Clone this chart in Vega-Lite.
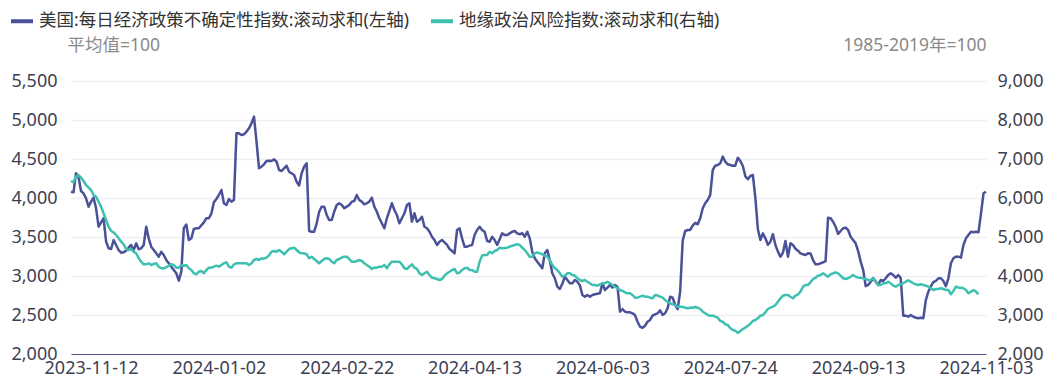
{
"$schema": "https://vega.github.io/schema/vega-lite/v6.json",
"width": 915, "height": 273,
"autosize": {"type": "none"},
"padding": {"left": 71, "top": 81, "right": 74, "bottom": 37},
"background": "white",
"config": {"font": "Noto Sans CJK SC", "view": {"stroke": null}},
"datasets": {
"epu": [
{"date":"2023-11-04","value":4081},{"date":"2023-11-05","value":4073},{"date":"2023-11-06","value":4317},{"date":"2023-11-07","value":4270},{"date":"2023-11-08","value":4090},{"date":"2023-11-09","value":4060},{"date":"2023-11-10","value":3996},{"date":"2023-11-11","value":3889},{"date":"2023-11-12","value":3953},{"date":"2023-11-13","value":4004},{"date":"2023-11-14","value":3868},{"date":"2023-11-15","value":3632},{"date":"2023-11-16","value":3688},{"date":"2023-11-17","value":3740},{"date":"2023-11-18","value":3440},{"date":"2023-11-19","value":3355},{"date":"2023-11-20","value":3346},{"date":"2023-11-21","value":3462},{"date":"2023-11-22","value":3398},{"date":"2023-11-23","value":3333},{"date":"2023-11-24","value":3299},{"date":"2023-11-25","value":3304},{"date":"2023-11-26","value":3325},{"date":"2023-11-27","value":3363},{"date":"2023-11-28","value":3398},{"date":"2023-11-29","value":3333},{"date":"2023-11-30","value":3419},
{"date":"2023-12-01","value":3342},{"date":"2023-12-02","value":3355},{"date":"2023-12-03","value":3398},{"date":"2023-12-04","value":3632},{"date":"2023-12-05","value":3483},{"date":"2023-12-06","value":3376},{"date":"2023-12-07","value":3333},{"date":"2023-12-08","value":3291},{"date":"2023-12-09","value":3248},{"date":"2023-12-10","value":3310},{"date":"2023-12-11","value":3269},{"date":"2023-12-12","value":3205},{"date":"2023-12-13","value":3163},{"date":"2023-12-14","value":3119},{"date":"2023-12-16","value":3035},{"date":"2023-12-17","value":2940},{"date":"2023-12-18","value":3055},{"date":"2023-12-19","value":3612},{"date":"2023-12-20","value":3660},{"date":"2023-12-21","value":3462},{"date":"2023-12-22","value":3483},{"date":"2023-12-23","value":3603},{"date":"2023-12-24","value":3612},{"date":"2023-12-25","value":3612},{"date":"2023-12-27","value":3688},{"date":"2023-12-28","value":3740},{"date":"2023-12-29","value":3740},{"date":"2023-12-30","value":3800},{"date":"2023-12-31","value":3945},
{"date":"2024-01-01","value":3987},{"date":"2024-01-02","value":4039},{"date":"2024-01-03","value":4103},{"date":"2024-01-04","value":3932},{"date":"2024-01-05","value":3910},{"date":"2024-01-06","value":3987},{"date":"2024-01-07","value":3953},{"date":"2024-01-08","value":3974},{"date":"2024-01-09","value":4830},{"date":"2024-01-10","value":4829},{"date":"2024-01-11","value":4808},{"date":"2024-01-12","value":4817},{"date":"2024-01-13","value":4850},{"date":"2024-01-14","value":4893},{"date":"2024-01-15","value":4957},{"date":"2024-01-16","value":5043},{"date":"2024-01-17","value":4722},{"date":"2024-01-18","value":4381},{"date":"2024-01-19","value":4401},{"date":"2024-01-20","value":4432},{"date":"2024-01-21","value":4474},{"date":"2024-01-22","value":4478},{"date":"2024-01-23","value":4474},{"date":"2024-01-24","value":4496},{"date":"2024-01-25","value":4465},{"date":"2024-01-26","value":4359},{"date":"2024-01-27","value":4346},{"date":"2024-01-28","value":4381},{"date":"2024-01-29","value":4414},{"date":"2024-01-30","value":4337},
{"date":"2024-02-01","value":4295},{"date":"2024-02-02","value":4209},{"date":"2024-02-03","value":4160},{"date":"2024-02-04","value":4317},{"date":"2024-02-05","value":4401},{"date":"2024-02-06","value":4445},{"date":"2024-02-07","value":3577},{"date":"2024-02-08","value":3568},{"date":"2024-02-09","value":3568},{"date":"2024-02-10","value":3676},{"date":"2024-02-11","value":3824},{"date":"2024-02-12","value":3889},{"date":"2024-02-13","value":3889},{"date":"2024-02-14","value":3782},{"date":"2024-02-15","value":3718},{"date":"2024-02-16","value":3718},{"date":"2024-02-17","value":3824},{"date":"2024-02-18","value":3910},{"date":"2024-02-19","value":3932},{"date":"2024-02-20","value":3910},{"date":"2024-02-21","value":3868},{"date":"2024-02-22","value":3889},{"date":"2024-02-23","value":3910},{"date":"2024-02-24","value":3953},{"date":"2024-02-25","value":3962},{"date":"2024-02-26","value":4039},{"date":"2024-02-27","value":3974},{"date":"2024-02-28","value":3953},{"date":"2024-02-29","value":3919},
{"date":"2024-03-01","value":3932},{"date":"2024-03-02","value":3953},{"date":"2024-03-03","value":4004},{"date":"2024-03-04","value":3889},{"date":"2024-03-05","value":3824},{"date":"2024-03-06","value":3740},{"date":"2024-03-07","value":3676},{"date":"2024-03-08","value":3612},{"date":"2024-03-09","value":3740},{"date":"2024-03-10","value":3834},{"date":"2024-03-11","value":3932},{"date":"2024-03-12","value":3846},{"date":"2024-03-13","value":3782},{"date":"2024-03-14","value":3676},{"date":"2024-03-15","value":3740},{"date":"2024-03-16","value":3804},{"date":"2024-03-17","value":3910},{"date":"2024-03-18","value":3932},{"date":"2024-03-19","value":3696},{"date":"2024-03-20","value":3804},{"date":"2024-03-21","value":3696},{"date":"2024-03-22","value":3718},{"date":"2024-03-23","value":3760},{"date":"2024-03-24","value":3632},{"date":"2024-03-25","value":3612},{"date":"2024-03-26","value":3568},{"date":"2024-03-27","value":3504},{"date":"2024-03-28","value":3462},{"date":"2024-03-29","value":3398},{"date":"2024-03-30","value":3440},{"date":"2024-03-31","value":3462},
{"date":"2024-04-02","value":3398},{"date":"2024-04-03","value":3346},{"date":"2024-04-04","value":3321},{"date":"2024-04-05","value":3291},{"date":"2024-04-06","value":3590},{"date":"2024-04-07","value":3612},{"date":"2024-04-08","value":3483},{"date":"2024-04-09","value":3376},{"date":"2024-04-10","value":3376},{"date":"2024-04-11","value":3389},{"date":"2024-04-12","value":3398},{"date":"2024-04-13","value":3526},{"date":"2024-04-14","value":3590},{"date":"2024-04-15","value":3632},{"date":"2024-04-16","value":3590},{"date":"2024-04-17","value":3568},{"date":"2024-04-18","value":3449},{"date":"2024-04-19","value":3440},{"date":"2024-04-20","value":3504},{"date":"2024-04-21","value":3462},{"date":"2024-04-22","value":3398},{"date":"2024-04-23","value":3470},{"date":"2024-04-24","value":3547},{"date":"2024-04-25","value":3526},{"date":"2024-04-26","value":3526},{"date":"2024-04-27","value":3547},{"date":"2024-04-28","value":3568},{"date":"2024-04-29","value":3577},{"date":"2024-04-30","value":3547},
{"date":"2024-05-01","value":3535},{"date":"2024-05-02","value":3550},{"date":"2024-05-03","value":3504},{"date":"2024-05-04","value":3568},{"date":"2024-05-05","value":3483},{"date":"2024-05-06","value":3312},{"date":"2024-05-07","value":3227},{"date":"2024-05-08","value":3184},{"date":"2024-05-09","value":3141},{"date":"2024-05-10","value":3099},{"date":"2024-05-11","value":3291},{"date":"2024-05-12","value":3334},{"date":"2024-05-13","value":3200},{"date":"2024-05-14","value":3035},{"date":"2024-05-15","value":2971},{"date":"2024-05-16","value":2863},{"date":"2024-05-17","value":2834},{"date":"2024-05-18","value":2900},{"date":"2024-05-19","value":2991},{"date":"2024-05-20","value":2949},{"date":"2024-05-21","value":2906},{"date":"2024-05-22","value":2906},{"date":"2024-05-23","value":2949},{"date":"2024-05-24","value":2927},{"date":"2024-05-25","value":2880},{"date":"2024-05-26","value":2757},{"date":"2024-05-27","value":2735},{"date":"2024-05-28","value":2757},{"date":"2024-05-29","value":2735},{"date":"2024-05-30","value":2757},{"date":"2024-05-31","value":2766},
{"date":"2024-06-01","value":2773},{"date":"2024-06-02","value":2778},{"date":"2024-06-03","value":2906},{"date":"2024-06-04","value":2820},{"date":"2024-06-05","value":2850},{"date":"2024-06-06","value":2885},{"date":"2024-06-07","value":2850},{"date":"2024-06-08","value":2885},{"date":"2024-06-09","value":2863},{"date":"2024-06-10","value":2542},{"date":"2024-06-11","value":2577},{"date":"2024-06-12","value":2542},{"date":"2024-06-13","value":2534},{"date":"2024-06-14","value":2534},{"date":"2024-06-15","value":2521},{"date":"2024-06-16","value":2499},{"date":"2024-06-17","value":2413},{"date":"2024-06-18","value":2349},{"date":"2024-06-19","value":2336},{"date":"2024-06-20","value":2362},{"date":"2024-06-21","value":2414},{"date":"2024-06-22","value":2436},{"date":"2024-06-23","value":2491},{"date":"2024-06-24","value":2509},{"date":"2024-06-25","value":2522},{"date":"2024-06-26","value":2560},{"date":"2024-06-27","value":2500},{"date":"2024-06-28","value":2522},{"date":"2024-06-29","value":2586},{"date":"2024-06-30","value":2735},
{"date":"2024-07-01","value":2722},{"date":"2024-07-02","value":2628},{"date":"2024-07-03","value":2575},{"date":"2024-07-04","value":2800},{"date":"2024-07-05","value":3450},{"date":"2024-07-06","value":3577},{"date":"2024-07-07","value":3590},{"date":"2024-07-08","value":3590},{"date":"2024-07-09","value":3645},{"date":"2024-07-10","value":3680},{"date":"2024-07-11","value":3663},{"date":"2024-07-12","value":3740},{"date":"2024-07-13","value":3868},{"date":"2024-07-14","value":3932},{"date":"2024-07-15","value":3974},{"date":"2024-07-16","value":4040},{"date":"2024-07-17","value":4359},{"date":"2024-07-18","value":4414},{"date":"2024-07-19","value":4423},{"date":"2024-07-20","value":4445},{"date":"2024-07-21","value":4530},{"date":"2024-07-22","value":4465},{"date":"2024-07-23","value":4432},{"date":"2024-07-24","value":4423},{"date":"2024-07-25","value":4414},{"date":"2024-07-26","value":4414},{"date":"2024-07-27","value":4517},{"date":"2024-07-28","value":4474},{"date":"2024-07-29","value":4410},{"date":"2024-07-30","value":4280},{"date":"2024-07-31","value":4240},
{"date":"2024-08-01","value":4282},{"date":"2024-08-02","value":4295},{"date":"2024-08-03","value":4000},{"date":"2024-08-04","value":3600},{"date":"2024-08-05","value":3462},{"date":"2024-08-06","value":3547},{"date":"2024-08-07","value":3483},{"date":"2024-08-08","value":3400},{"date":"2024-08-09","value":3440},{"date":"2024-08-10","value":3535},{"date":"2024-08-11","value":3398},{"date":"2024-08-12","value":3312},{"date":"2024-08-13","value":3248},{"date":"2024-08-14","value":3300},{"date":"2024-08-15","value":3449},{"date":"2024-08-16","value":3248},{"date":"2024-08-17","value":3420},{"date":"2024-08-18","value":3398},{"date":"2024-08-19","value":3350},{"date":"2024-08-20","value":3325},{"date":"2024-08-21","value":3291},{"date":"2024-08-22","value":3278},{"date":"2024-08-23","value":3269},{"date":"2024-08-24","value":3291},{"date":"2024-08-25","value":3290},{"date":"2024-08-26","value":3205},{"date":"2024-08-27","value":3150},{"date":"2024-08-28","value":3150},{"date":"2024-08-29","value":3163},{"date":"2024-08-30","value":3175},{"date":"2024-08-31","value":3190},
{"date":"2024-09-01","value":3747},{"date":"2024-09-02","value":3740},{"date":"2024-09-03","value":3696},{"date":"2024-09-04","value":3632},{"date":"2024-09-05","value":3540},{"date":"2024-09-06","value":3577},{"date":"2024-09-07","value":3612},{"date":"2024-09-08","value":3619},{"date":"2024-09-09","value":3590},{"date":"2024-09-10","value":3504},{"date":"2024-09-11","value":3462},{"date":"2024-09-12","value":3419},{"date":"2024-09-13","value":3320},{"date":"2024-09-14","value":3184},{"date":"2024-09-15","value":3080},{"date":"2024-09-16","value":2870},{"date":"2024-09-17","value":2885},{"date":"2024-09-18","value":2927},{"date":"2024-09-19","value":2975},{"date":"2024-09-20","value":2927},{"date":"2024-09-21","value":2885},{"date":"2024-09-22","value":2949},{"date":"2024-09-23","value":2936},{"date":"2024-09-24","value":2971},{"date":"2024-09-25","value":3013},{"date":"2024-09-26","value":3035},{"date":"2024-09-27","value":3013},{"date":"2024-09-28","value":2978},{"date":"2024-09-29","value":3013},{"date":"2024-09-30","value":2970},
{"date":"2024-10-01","value":2491},{"date":"2024-10-02","value":2491},{"date":"2024-10-03","value":2478},{"date":"2024-10-04","value":2500},{"date":"2024-10-05","value":2478},{"date":"2024-10-06","value":2465},{"date":"2024-10-07","value":2458},{"date":"2024-10-08","value":2465},{"date":"2024-10-09","value":2458},{"date":"2024-10-10","value":2692},{"date":"2024-10-11","value":2799},{"date":"2024-10-12","value":2870},{"date":"2024-10-13","value":2920},{"date":"2024-10-14","value":2936},{"date":"2024-10-15","value":2971},{"date":"2024-10-16","value":2971},{"date":"2024-10-17","value":2936},{"date":"2024-10-18","value":2870},{"date":"2024-10-19","value":2971},{"date":"2024-10-20","value":3163},{"date":"2024-10-21","value":3227},{"date":"2024-10-22","value":3248},{"date":"2024-10-23","value":3248},{"date":"2024-10-24","value":3235},{"date":"2024-10-25","value":3398},{"date":"2024-10-26","value":3483},{"date":"2024-10-27","value":3526},{"date":"2024-10-28","value":3568},{"date":"2024-10-29","value":3560},{"date":"2024-10-30","value":3568},{"date":"2024-10-31","value":3560},
{"date":"2024-11-01","value":3800},{"date":"2024-11-02","value":4060},{"date":"2024-11-03","value":4081}
],
"gpr": [
{"date":"2023-11-04","value":6436},{"date":"2023-11-05","value":6403},{"date":"2023-11-06","value":6546},{"date":"2023-11-07","value":6590},{"date":"2023-11-08","value":6521},{"date":"2023-11-09","value":6436},{"date":"2023-11-10","value":6333},{"date":"2023-11-12","value":6205},{"date":"2023-11-13","value":6077},{"date":"2023-11-14","value":6033},{"date":"2023-11-15","value":5905},{"date":"2023-11-16","value":5777},{"date":"2023-11-17","value":5608},{"date":"2023-11-18","value":5436},{"date":"2023-11-19","value":5264},{"date":"2023-11-20","value":5154},{"date":"2023-11-21","value":5121},{"date":"2023-11-22","value":5051},{"date":"2023-11-23","value":4967},{"date":"2023-11-24","value":4880},{"date":"2023-11-25","value":4813},{"date":"2023-11-26","value":4692},{"date":"2023-11-27","value":4667},{"date":"2023-11-28","value":4692},{"date":"2023-11-29","value":4623},{"date":"2023-11-30","value":4582},
{"date":"2023-12-01","value":4454},{"date":"2023-12-02","value":4367},{"date":"2023-12-03","value":4300},{"date":"2023-12-04","value":4300},{"date":"2023-12-05","value":4326},{"date":"2023-12-06","value":4282},{"date":"2023-12-07","value":4308},{"date":"2023-12-08","value":4326},{"date":"2023-12-09","value":4239},{"date":"2023-12-10","value":4198},{"date":"2023-12-11","value":4198},{"date":"2023-12-12","value":4223},{"date":"2023-12-13","value":4264},{"date":"2023-12-14","value":4300},{"date":"2023-12-15","value":4282},{"date":"2023-12-16","value":4213},{"date":"2023-12-17","value":4213},{"date":"2023-12-18","value":4282},{"date":"2023-12-19","value":4264},{"date":"2023-12-20","value":4282},{"date":"2023-12-21","value":4198},{"date":"2023-12-22","value":4154},{"date":"2023-12-23","value":4070},{"date":"2023-12-24","value":4044},{"date":"2023-12-25","value":4110},{"date":"2023-12-26","value":4128},{"date":"2023-12-27","value":4070},{"date":"2023-12-28","value":4154},{"date":"2023-12-29","value":4213},{"date":"2023-12-30","value":4213},{"date":"2023-12-31","value":4239},
{"date":"2024-01-01","value":4264},{"date":"2024-01-02","value":4239},{"date":"2024-01-03","value":4282},{"date":"2024-01-04","value":4326},{"date":"2024-01-05","value":4351},{"date":"2024-01-06","value":4239},{"date":"2024-01-07","value":4213},{"date":"2024-01-08","value":4300},{"date":"2024-01-09","value":4326},{"date":"2024-01-10","value":4326},{"date":"2024-01-11","value":4326},{"date":"2024-01-12","value":4326},{"date":"2024-01-13","value":4326},{"date":"2024-01-14","value":4282},{"date":"2024-01-15","value":4326},{"date":"2024-01-16","value":4410},{"date":"2024-01-17","value":4436},{"date":"2024-01-18","value":4410},{"date":"2024-01-19","value":4454},{"date":"2024-01-20","value":4445},{"date":"2024-01-21","value":4470},{"date":"2024-01-22","value":4530},{"date":"2024-01-23","value":4623},{"date":"2024-01-24","value":4641},{"date":"2024-01-25","value":4623},{"date":"2024-01-26","value":4667},{"date":"2024-01-27","value":4623},{"date":"2024-01-28","value":4557},{"date":"2024-01-29","value":4623},{"date":"2024-01-30","value":4692},{"date":"2024-01-31","value":4710},
{"date":"2024-02-01","value":4726},{"date":"2024-02-02","value":4667},{"date":"2024-02-03","value":4608},{"date":"2024-02-04","value":4582},{"date":"2024-02-05","value":4582},{"date":"2024-02-06","value":4557},{"date":"2024-02-07","value":4454},{"date":"2024-02-08","value":4495},{"date":"2024-02-09","value":4436},{"date":"2024-02-10","value":4385},{"date":"2024-02-11","value":4326},{"date":"2024-02-12","value":4385},{"date":"2024-02-13","value":4436},{"date":"2024-02-14","value":4454},{"date":"2024-02-15","value":4436},{"date":"2024-02-16","value":4367},{"date":"2024-02-17","value":4326},{"date":"2024-02-18","value":4410},{"date":"2024-02-19","value":4436},{"date":"2024-02-20","value":4470},{"date":"2024-02-21","value":4495},{"date":"2024-02-22","value":4495},{"date":"2024-02-23","value":4436},{"date":"2024-02-24","value":4367},{"date":"2024-02-25","value":4367},{"date":"2024-02-26","value":4385},{"date":"2024-02-27","value":4410},{"date":"2024-02-28","value":4385},{"date":"2024-02-29","value":4326},
{"date":"2024-03-01","value":4282},{"date":"2024-03-02","value":4239},{"date":"2024-03-03","value":4180},{"date":"2024-03-04","value":4213},{"date":"2024-03-05","value":4213},{"date":"2024-03-06","value":4239},{"date":"2024-03-07","value":4239},{"date":"2024-03-08","value":4282},{"date":"2024-03-09","value":4198},{"date":"2024-03-10","value":4300},{"date":"2024-03-11","value":4367},{"date":"2024-03-12","value":4367},{"date":"2024-03-13","value":4367},{"date":"2024-03-14","value":4367},{"date":"2024-03-15","value":4300},{"date":"2024-03-16","value":4198},{"date":"2024-03-17","value":4180},{"date":"2024-03-18","value":4239},{"date":"2024-03-19","value":4300},{"date":"2024-03-20","value":4213},{"date":"2024-03-21","value":4180},{"date":"2024-03-22","value":4069},{"date":"2024-03-23","value":4026},{"date":"2024-03-24","value":4069},{"date":"2024-03-25","value":4110},{"date":"2024-03-26","value":4026},{"date":"2024-03-27","value":3957},{"date":"2024-03-28","value":3941},{"date":"2024-03-29","value":3923},{"date":"2024-03-30","value":3898},{"date":"2024-03-31","value":3923},
{"date":"2024-04-01","value":4008},{"date":"2024-04-02","value":4069},{"date":"2024-04-03","value":4110},{"date":"2024-04-04","value":4154},{"date":"2024-04-05","value":4180},{"date":"2024-04-06","value":4069},{"date":"2024-04-07","value":4085},{"date":"2024-04-08","value":4154},{"date":"2024-04-09","value":4198},{"date":"2024-04-10","value":4213},{"date":"2024-04-11","value":4154},{"date":"2024-04-12","value":4154},{"date":"2024-04-13","value":4110},{"date":"2024-04-14","value":4110},{"date":"2024-04-15","value":4367},{"date":"2024-04-16","value":4525},{"date":"2024-04-17","value":4538},{"date":"2024-04-18","value":4538},{"date":"2024-04-19","value":4623},{"date":"2024-04-20","value":4582},{"date":"2024-04-21","value":4641},{"date":"2024-04-22","value":4667},{"date":"2024-04-23","value":4726},{"date":"2024-04-24","value":4710},{"date":"2024-04-25","value":4718},{"date":"2024-04-26","value":4726},{"date":"2024-04-27","value":4751},{"date":"2024-04-28","value":4777},{"date":"2024-04-29","value":4795},{"date":"2024-04-30","value":4813},
{"date":"2024-05-01","value":4795},{"date":"2024-05-02","value":4726},{"date":"2024-05-03","value":4667},{"date":"2024-05-04","value":4582},{"date":"2024-05-05","value":4495},{"date":"2024-05-06","value":4495},{"date":"2024-05-07","value":4582},{"date":"2024-05-08","value":4608},{"date":"2024-05-09","value":4582},{"date":"2024-05-10","value":4557},{"date":"2024-05-11","value":4521},{"date":"2024-05-12","value":4495},{"date":"2024-05-13","value":4410},{"date":"2024-05-14","value":4282},{"date":"2024-05-15","value":4198},{"date":"2024-05-16","value":4154},{"date":"2024-05-17","value":4069},{"date":"2024-05-18","value":3982},{"date":"2024-05-19","value":4008},{"date":"2024-05-20","value":4069},{"date":"2024-05-21","value":4069},{"date":"2024-05-22","value":4026},{"date":"2024-05-23","value":4008},{"date":"2024-05-24","value":3941},{"date":"2024-05-25","value":3898},{"date":"2024-05-26","value":3872},{"date":"2024-05-27","value":3898},{"date":"2024-05-28","value":3854},{"date":"2024-05-29","value":3813},{"date":"2024-05-30","value":3770},{"date":"2024-05-31","value":3770},
{"date":"2024-06-01","value":3752},{"date":"2024-06-02","value":3787},{"date":"2024-06-03","value":3813},{"date":"2024-06-04","value":3813},{"date":"2024-06-05","value":3854},{"date":"2024-06-06","value":3813},{"date":"2024-06-07","value":3770},{"date":"2024-06-08","value":3726},{"date":"2024-06-09","value":3685},{"date":"2024-06-10","value":3641},{"date":"2024-06-11","value":3616},{"date":"2024-06-12","value":3582},{"date":"2024-06-13","value":3556},{"date":"2024-06-14","value":3556},{"date":"2024-06-15","value":3513},{"date":"2024-06-16","value":3444},{"date":"2024-06-17","value":3444},{"date":"2024-06-18","value":3469},{"date":"2024-06-19","value":3495},{"date":"2024-06-20","value":3469},{"date":"2024-06-21","value":3469},{"date":"2024-06-22","value":3444},{"date":"2024-06-23","value":3428},{"date":"2024-06-24","value":3513},{"date":"2024-06-25","value":3500},{"date":"2024-06-26","value":3469},{"date":"2024-06-27","value":3444},{"date":"2024-06-28","value":3385},{"date":"2024-06-29","value":3341},{"date":"2024-06-30","value":3300},
{"date":"2024-07-01","value":3275},{"date":"2024-07-02","value":3257},{"date":"2024-07-03","value":3213},{"date":"2024-07-04","value":3213},{"date":"2024-07-05","value":3210},{"date":"2024-07-06","value":3187},{"date":"2024-07-07","value":3172},{"date":"2024-07-08","value":3187},{"date":"2024-07-09","value":3187},{"date":"2024-07-10","value":3205},{"date":"2024-07-11","value":3187},{"date":"2024-07-12","value":3154},{"date":"2024-07-13","value":3085},{"date":"2024-07-14","value":3044},{"date":"2024-07-15","value":3000},{"date":"2024-07-16","value":2982},{"date":"2024-07-17","value":2982},{"date":"2024-07-18","value":2957},{"date":"2024-07-19","value":2931},{"date":"2024-07-20","value":2846},{"date":"2024-07-21","value":2829},{"date":"2024-07-22","value":2762},{"date":"2024-07-23","value":2744},{"date":"2024-07-24","value":2659},{"date":"2024-07-25","value":2616},{"date":"2024-07-26","value":2598},{"date":"2024-07-27","value":2540},{"date":"2024-07-28","value":2590},{"date":"2024-07-29","value":2641},{"date":"2024-07-30","value":2675},{"date":"2024-07-31","value":2726},
{"date":"2024-08-01","value":2777},{"date":"2024-08-02","value":2846},{"date":"2024-08-03","value":2872},{"date":"2024-08-04","value":2916},{"date":"2024-08-05","value":2982},{"date":"2024-08-06","value":3000},{"date":"2024-08-07","value":3069},{"date":"2024-08-08","value":3154},{"date":"2024-08-09","value":3187},{"date":"2024-08-10","value":3213},{"date":"2024-08-11","value":3257},{"date":"2024-08-12","value":3341},{"date":"2024-08-13","value":3428},{"date":"2024-08-14","value":3495},{"date":"2024-08-15","value":3513},{"date":"2024-08-16","value":3513},{"date":"2024-08-17","value":3469},{"date":"2024-08-18","value":3428},{"date":"2024-08-19","value":3495},{"date":"2024-08-20","value":3531},{"date":"2024-08-21","value":3598},{"date":"2024-08-22","value":3726},{"date":"2024-08-23","value":3770},{"date":"2024-08-24","value":3770},{"date":"2024-08-25","value":3839},{"date":"2024-08-26","value":3923},{"date":"2024-08-27","value":3957},{"date":"2024-08-28","value":4008},{"date":"2024-08-29","value":4026},{"date":"2024-08-30","value":4069},{"date":"2024-08-31","value":4026},
{"date":"2024-09-01","value":3982},{"date":"2024-09-02","value":4044},{"date":"2024-09-03","value":4069},{"date":"2024-09-04","value":4095},{"date":"2024-09-05","value":4069},{"date":"2024-09-06","value":4008},{"date":"2024-09-07","value":3941},{"date":"2024-09-08","value":3923},{"date":"2024-09-09","value":3941},{"date":"2024-09-10","value":3982},{"date":"2024-09-11","value":4026},{"date":"2024-09-12","value":3982},{"date":"2024-09-13","value":3957},{"date":"2024-09-14","value":3957},{"date":"2024-09-15","value":3941},{"date":"2024-09-16","value":3923},{"date":"2024-09-17","value":3898},{"date":"2024-09-18","value":3898},{"date":"2024-09-19","value":3941},{"date":"2024-09-20","value":3872},{"date":"2024-09-21","value":3770},{"date":"2024-09-22","value":3770},{"date":"2024-09-23","value":3813},{"date":"2024-09-24","value":3813},{"date":"2024-09-25","value":3854},{"date":"2024-09-26","value":3813},{"date":"2024-09-27","value":3752},{"date":"2024-09-28","value":3726},{"date":"2024-09-29","value":3770},{"date":"2024-09-30","value":3787},
{"date":"2024-10-01","value":3813},{"date":"2024-10-02","value":3854},{"date":"2024-10-03","value":3890},{"date":"2024-10-04","value":3854},{"date":"2024-10-05","value":3813},{"date":"2024-10-06","value":3787},{"date":"2024-10-07","value":3770},{"date":"2024-10-08","value":3787},{"date":"2024-10-09","value":3770},{"date":"2024-10-10","value":3752},{"date":"2024-10-11","value":3726},{"date":"2024-10-12","value":3685},{"date":"2024-10-13","value":3641},{"date":"2024-10-14","value":3667},{"date":"2024-10-15","value":3667},{"date":"2024-10-16","value":3685},{"date":"2024-10-17","value":3667},{"date":"2024-10-18","value":3641},{"date":"2024-10-19","value":3641},{"date":"2024-10-20","value":3531},{"date":"2024-10-21","value":3616},{"date":"2024-10-22","value":3726},{"date":"2024-10-23","value":3700},{"date":"2024-10-24","value":3700},{"date":"2024-10-25","value":3685},{"date":"2024-10-26","value":3641},{"date":"2024-10-27","value":3556},{"date":"2024-10-28","value":3598},{"date":"2024-10-29","value":3641},{"date":"2024-10-30","value":3600},{"date":"2024-10-31","value":3531}
]
},
"layer": [
{
"data": {"name": "epu"},
"mark": {"type": "line", "strokeWidth": 2.5, "strokeJoin": "round"},
"encoding": {
"x": {"field": "date", "type": "temporal",
 "scale": {"type": "utc", "domain": [{"year": 2023, "month": 11, "date": 4, "utc": true}, {"year": 2024, "month": 11, "date": 3, "utc": true}]},
 "axis": {"title": null, "format": "%Y-%m-%d", "values": [
  {"year": 2023, "month": 11, "date": 12, "utc": true},
  {"year": 2024, "month": 1, "date": 2, "utc": true},
  {"year": 2024, "month": 2, "date": 22, "utc": true},
  {"year": 2024, "month": 4, "date": 13, "utc": true},
  {"year": 2024, "month": 6, "date": 3, "utc": true},
  {"year": 2024, "month": 7, "date": 24, "utc": true},
  {"year": 2024, "month": 9, "date": 13, "utc": true},
  {"year": 2024, "month": 11, "date": 3, "utc": true}],
  "labelFlush": false, "labelOverlap": false, "ticks": false, "grid": false,
  "domainColor": "#4F5487", "domainWidth": 1.2,
  "labelFont": "Noto Sans", "labelFontSize": 18, "labelColor": "#3D3F52", "labelPadding": 5}},
"y": {"field": "value", "type": "quantitative",
 "scale": {"domain": [2000, 5500], "nice": false, "zero": false},
 "axis": {"orient": "left", "values": [2000, 2500, 3000, 3500, 4000, 4500, 5000, 5500], "format": ",.0f",
  "domain": false, "ticks": false, "grid": true, "gridColor": "#EEEEF5", "gridWidth": 1.5,
  "labelFont": "Noto Sans", "labelFontSize": 18, "labelColor": "#3D3F52", "labelPadding": 14,
  "title": "平均值=100", "titleFont": "Noto Sans, Noto Sans CJK SC", "titleAngle": 0, "titleX": -4, "titleY": -36, "titleAlign": "left", "titleBaseline": "middle",
  "titleFontSize": 17.5, "titleFontWeight": "normal", "titleColor": "#8A8A8A"}},
"color": {"datum": "美国:每日经济政策不确定性指数:滚动求和(左轴)", "type": "nominal",
 "scale": {"domain": ["美国:每日经济政策不确定性指数:滚动求和(左轴)", "地缘政治风险指数:滚动求和(右轴)"], "range": ["#4B5198", "#3EC0B0"]},
 "legend": {"title": null, "orient": "none", "legendX": -62, "legendY": -73, "direction": "horizontal",
  "symbolType": "stroke", "symbolSize": 484, "symbolStrokeWidth": 4, "labelFont": "Noto Sans, Noto Sans CJK SC", "labelFontSize": 17.5, "labelColor": "#333333",
  "labelLimit": 600, "columnPadding": 14, "labelOffset": 4}}
}
},
{
"data": {"name": "gpr"},
"mark": {"type": "line", "strokeWidth": 2.5, "strokeJoin": "round"},
"encoding": {
"x": {"field": "date", "type": "temporal"},
"y": {"field": "value", "type": "quantitative",
 "scale": {"domain": [2000, 9000], "nice": false, "zero": false},
 "axis": {"orient": "right", "values": [2000, 3000, 4000, 5000, 6000, 7000, 8000, 9000], "format": ",.0f",
  "domain": false, "ticks": false, "grid": false,
  "labelFont": "Noto Sans", "labelFontSize": 18, "labelColor": "#3D3F52", "labelPadding": 11,
  "title": "1985-2019年=100", "titleFont": "Noto Sans, Noto Sans CJK SC", "titleAngle": 0, "titleX": 0, "titleY": -36, "titleAlign": "right", "titleBaseline": "middle",
  "titleFontSize": 17.5, "titleFontWeight": "normal", "titleColor": "#8A8A8A"}},
"color": {"datum": "地缘政治风险指数:滚动求和(右轴)", "type": "nominal"}
}
}
],
"resolve": {"scale": {"y": "independent"}}
}
